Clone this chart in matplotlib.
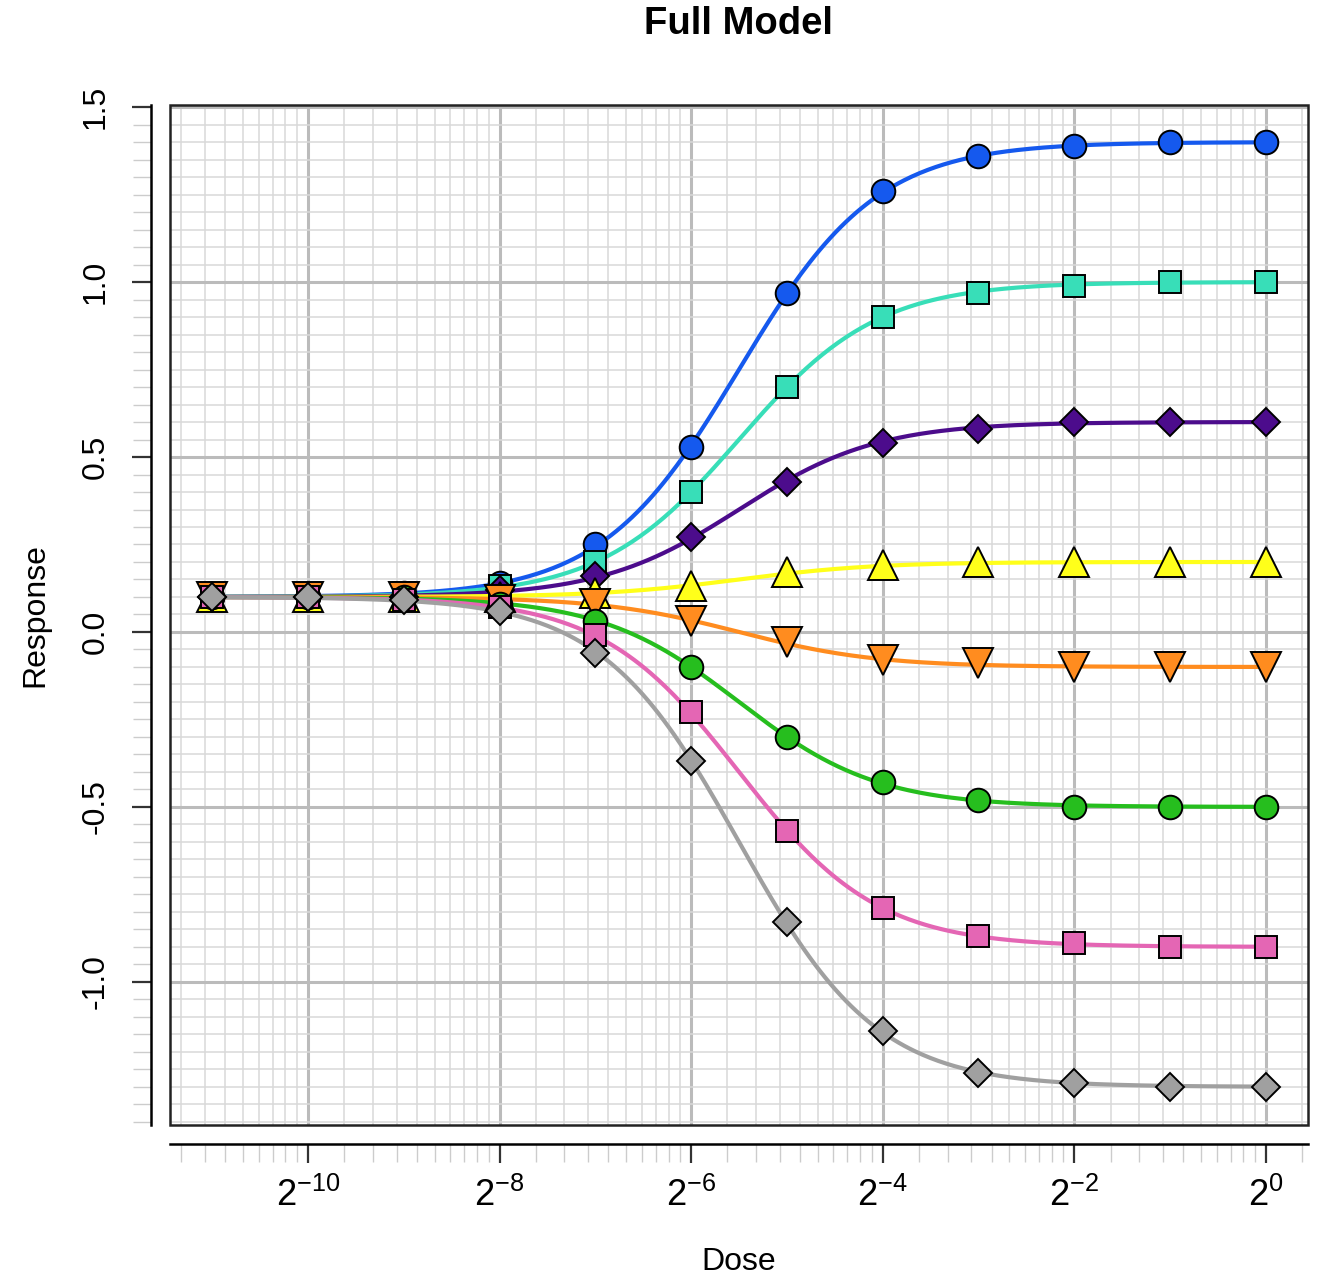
import numpy as np
import matplotlib
matplotlib.use('Agg')
import matplotlib.pyplot as plt
import matplotlib.ticker as ticker
from matplotlib.patches import Rectangle

plt.rcParams.update({
    'font.family': ['Liberation Sans', 'DejaVu Sans'],
    'mathtext.fontset': 'custom',
    'mathtext.rm': 'Liberation Sans',
    'mathtext.it': 'Liberation Sans:italic',
    'mathtext.bf': 'Liberation Sans:bold',
})

# --- datos ---------------------------------------------------------------
dose_exp = [-11, -10, -9, -8, -7, -6, -5, -4, -3, -2, -1, 0]   # dosis = 2^exp

series_names = ['blue', 'turquoise', 'purple', 'yellow', 'orange', 'green', 'pink', 'gray']
series_colors = ['#1559EE', '#38DEB8', '#4C0C8C', '#FFFF1A', '#FF8C1F', '#26BE1E', '#E466B4', '#A0A0A0']
series_markers = ['o', 's', 'D', '^', 'v', 'o', 's', 'D']

resp_blue      = [0.10, 0.10, 0.11, 0.14, 0.25, 0.53, 0.97, 1.26, 1.36, 1.39, 1.40, 1.40]
resp_turquoise = [0.10, 0.10, 0.11, 0.13, 0.20, 0.40, 0.70, 0.90, 0.97, 0.99, 1.00, 1.00]
resp_purple    = [0.10, 0.10, 0.10, 0.12, 0.16, 0.27, 0.43, 0.54, 0.58, 0.60, 0.60, 0.60]
resp_yellow    = [0.10, 0.10, 0.10, 0.10, 0.11, 0.13, 0.17, 0.19, 0.20, 0.20, 0.20, 0.20]
resp_orange    = [0.10, 0.10, 0.10, 0.09, 0.08, 0.03, -0.03, -0.08, -0.09, -0.10, -0.10, -0.10]
resp_green     = [0.10, 0.10, 0.10, 0.08, 0.03, -0.10, -0.30, -0.43, -0.48, -0.50, -0.50, -0.50]
resp_pink      = [0.10, 0.10, 0.09, 0.07, -0.01, -0.23, -0.57, -0.79, -0.87, -0.89, -0.90, -0.90]
resp_gray      = [0.10, 0.10, 0.09, 0.06, -0.06, -0.37, -0.83, -1.14, -1.26, -1.29, -1.30, -1.30]
responses = [resp_blue, resp_turquoise, resp_purple, resp_yellow,
             resp_orange, resp_green, resp_pink, resp_gray]

# parámetros del modelo ajustado (curva log-logística común)
fit_bottom = 0.1
fit_tops = [1.4, 1.0, 0.6, 0.2, -0.1, -0.5, -0.9, -1.3]
fit_log2_ec50 = -5.5
fit_hill = 2.0

major_exp = [-10, -8, -6, -4, -2, 0]
y_major = [-1.0, -0.5, 0.0, 0.5, 1.0, 1.5]


def model(x, top):
    return fit_bottom + (top - fit_bottom) / (1 + (2.0 ** fit_log2_ec50 / x) ** fit_hill)


# --- figura --------------------------------------------------------------
fig = plt.figure(figsize=(13.17, 12.80), dpi=100)
ax = fig.add_axes([170 / 1317, 1 - 1125 / 1280, 1138 / 1317, 1020 / 1280])

x = 2.0 ** np.array(dose_exp)
xs = np.logspace(-11, 0, 400, base=2)

for col, top in zip(series_colors, fit_tops):
    ax.plot(xs, model(xs, top), color=col, lw=3.0, zorder=3, solid_capstyle='round')

msizes = {'o': 17, 's': 15.5, 'D': 14.5, '^': 21, 'v': 21}
for col, mk, resp in zip(series_colors, series_markers, responses):
    ax.plot(x, resp, linestyle='none', marker=mk, ms=msizes[mk], mfc=col,
            mec='black', mew=1.4, zorder=4, clip_on=False)

ax.set_xscale('log', base=2)
ax.set_xlim(2.0 ** -11.44, 2.0 ** 0.44)
ax.set_ylim(-1.409, 1.506)

# ticks: mayores en potencias pares de 2, menores 10 divisiones lineales
majors = [2.0 ** e for e in major_exp]
minor_x = []
for e in [-12] + major_exp:
    base = 2.0 ** e
    minor_x += [base * (1 + 0.3 * j) for j in range(1, 10)]
ax.xaxis.set_major_locator(ticker.FixedLocator(majors))
ax.xaxis.set_minor_locator(ticker.FixedLocator(minor_x))
ax.xaxis.set_major_formatter(ticker.FixedFormatter(
    [r'$\mathregular{2^{%d}}$' % e for e in major_exp]))
ax.xaxis.set_minor_formatter(ticker.NullFormatter())

ax.yaxis.set_major_locator(ticker.FixedLocator(y_major))
ax.yaxis.set_minor_locator(ticker.MultipleLocator(0.05))
ax.yaxis.set_major_formatter(ticker.FormatStrFormatter('%.1f'))

ax.grid(which='minor', color='#d9d9d9', lw=1.1, zorder=0)
ax.grid(which='major', color='#bbbbbb', lw=2.2, zorder=1)
ax.set_axisbelow(True)

# ejes desplazados estilo R
for s in ['top', 'right']:
    ax.spines[s].set_visible(False)
for s in ['left', 'bottom']:
    ax.spines[s].set_position(('outward', 14))
    ax.spines[s].set_linewidth(1.8)
ax.add_patch(Rectangle((0, 0), 1, 1, transform=ax.transAxes, fill=False,
                       lw=1.8, ec='#222222', clip_on=False, zorder=5))

ax.tick_params(which='major', direction='out', length=14, width=1.6, color='#333333',
               labelsize=23)
ax.tick_params(which='minor', direction='out', length=13, width=1.0, color='#cccccc')
ax.tick_params(axis='x', which='major', pad=10, labelsize=26)
ax.tick_params(axis='y', which='major', pad=15, labelrotation=90)
for lab in ax.get_yticklabels():
    lab.set_va('center')

fig.text(739 / 1317, 1 - 24 / 1280, 'Full Model', ha='center', va='center',
         fontsize=27.5, fontweight='bold')
fig.text(739 / 1317, 1 - 1262 / 1280, 'Dose', ha='center', va='center', fontsize=23)
fig.text(35 / 1317, 1 - 615 / 1280, 'Response', ha='center', va='center',
         rotation=90, fontsize=23)

fig.savefig('out.png', dpi=100)
